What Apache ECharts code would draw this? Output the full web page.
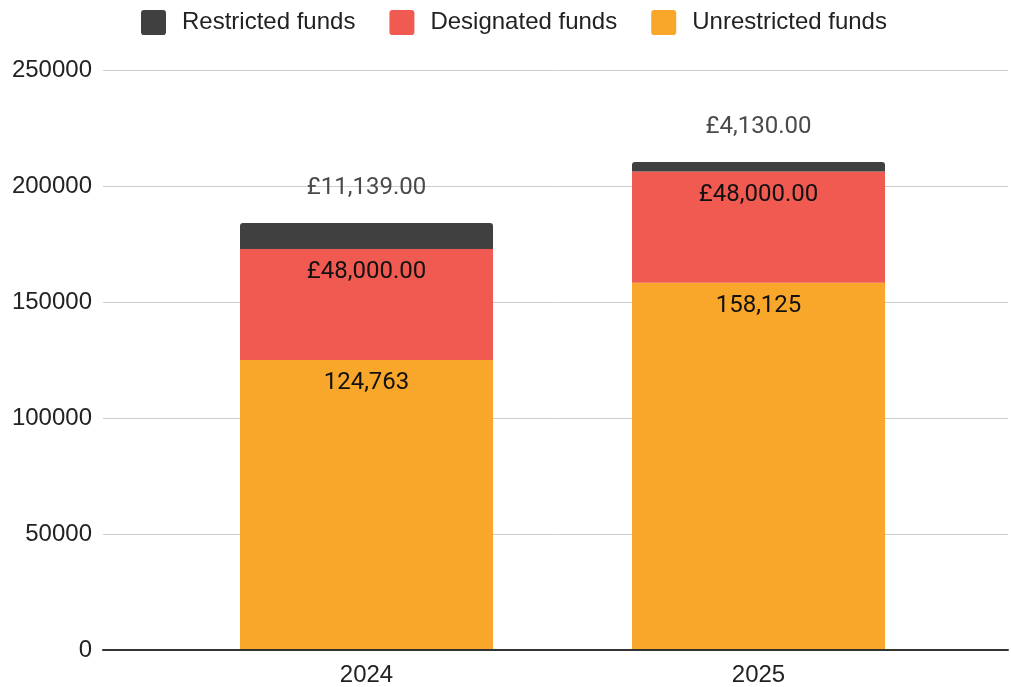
<!DOCTYPE html>
<html>
<head>
<meta charset="utf-8">
<script src="https://cdn.jsdelivr.net/npm/echarts@6/dist/echarts.min.js"></script>
<style>
html,body{margin:0;padding:0;background:#fff;}
#c{width:1011px;height:687px;}
</style>
</head>
<body>
<div id="c"></div>
<script>
const categories = ['2024', '2025'];
const unrestricted = [124763, 158125];
const designated = [48000, 48000];
const restricted = [11139, 4130];
const yTicks = [0, 50000, 100000, 150000, 200000, 250000];

function commas(v, dec) {
  const s = dec ? v.toFixed(dec) : String(Math.round(v));
  const parts = s.split('.');
  parts[0] = parts[0].replace(/\B(?=(\d{3})+(?!\d))/g, ',');
  return parts.join('.');
}

const axisFont = '"Liberation Sans", Arial, sans-serif';
const labelFont = 'Roboto, sans-serif';
const legendIcon = 'path://M3,0 H21 Q24,0 24,3 V21 Q24,24 21,24 H3 Q0,24 0,21 V3 Q0,0 3,0 Z';

const chart = echarts.init(document.getElementById('c'));
chart.setOption({
  animation: false,
  backgroundColor: '#fff',
  legend: {
    top: 5,
    left: 136,
    itemWidth: 25,
    itemHeight: 25,
    itemGap: 34,
    icon: legendIcon,
    data: ['Restricted funds', 'Designated funds', 'Unrestricted funds'],
    textStyle: { fontFamily: axisFont, fontSize: 24, color: '#222', padding: [0, 0, 0, 11] }
  },
  grid: [
    { left: 170.5, right: 56.5, top: 70, bottom: 37 },
    { left: 103, right: 3, top: 70, bottom: 37 }
  ],
  xAxis: [
    {
      type: 'category', gridIndex: 0, data: categories,
      axisLine: { show: false }, axisTick: { show: false },
      axisLabel: { fontFamily: axisFont, fontSize: 24, color: '#222', margin: 14 }
    },
    {
      type: 'category', gridIndex: 1, data: categories,
      axisLine: { show: true, lineStyle: { color: '#333', width: 2 } },
      axisTick: { show: false }, axisLabel: { show: false }
    }
  ],
  yAxis: [
    {
      type: 'value', gridIndex: 0, min: yTicks[0], max: yTicks[yTicks.length - 1], interval: yTicks[1] - yTicks[0],
      show: false
    },
    {
      type: 'value', gridIndex: 1, min: yTicks[0], max: yTicks[yTicks.length - 1], interval: yTicks[1] - yTicks[0],
      axisLine: { show: false }, axisTick: { show: false },
      axisLabel: { fontFamily: axisFont, fontSize: 24, color: '#222', margin: 11, formatter: v => String(v) },
      splitLine: { lineStyle: { color: '#ccc', width: 1 } }
    }
  ],
  series: [
    {
      name: 'Unrestricted funds', type: 'bar', stack: 'total', xAxisIndex: 0, yAxisIndex: 0,
      data: unrestricted, barWidth: 253,
      itemStyle: { color: '#f9a72b' },
      label: { show: true, position: 'insideTop', distance: 11, fontFamily: labelFont, fontSize: 24, color: '#111',
        formatter: p => commas(p.value) }
    },
    {
      name: 'Designated funds', type: 'bar', stack: 'total', xAxisIndex: 0, yAxisIndex: 0,
      data: designated, barWidth: 253,
      itemStyle: { color: '#f15a50' },
      label: { show: true, position: 'insideTop', distance: 11, fontFamily: labelFont, fontSize: 24, color: '#111',
        formatter: p => '£' + commas(p.value, 2) }
    },
    {
      name: 'Restricted funds', type: 'bar', stack: 'total', xAxisIndex: 0, yAxisIndex: 0,
      data: restricted, barWidth: 253,
      itemStyle: { color: '#404040', borderRadius: [3, 3, 0, 0] },
      label: { show: true, position: 'top', distance: 23, fontFamily: labelFont, fontSize: 24, color: '#4a4a4a',
        formatter: p => '£' + commas(p.value, 2) }
    }
  ]
});
</script>
</body>
</html>
